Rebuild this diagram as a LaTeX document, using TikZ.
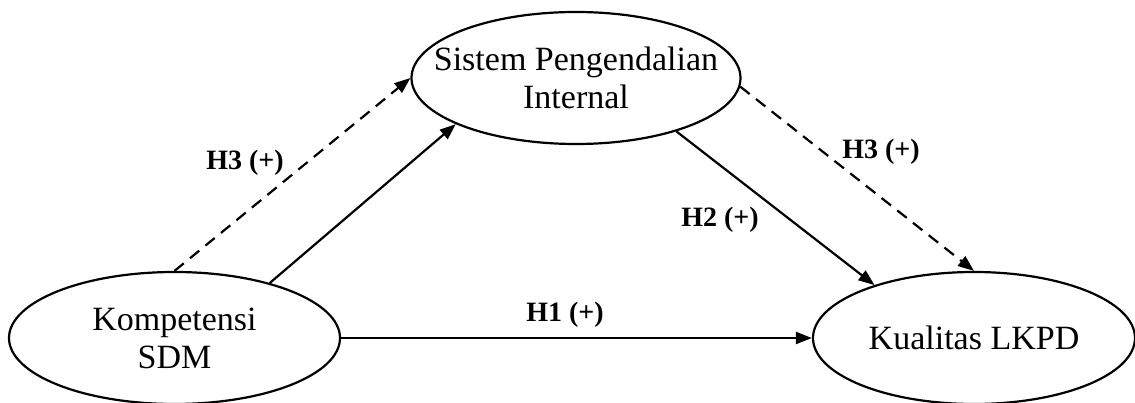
\documentclass[tikz,border=0pt]{standalone}
\usepackage{fontspec}
\setmainfont{Liberation Serif}
\usetikzlibrary{arrows.meta,shapes.geometric}
\begin{document}
\begin{tikzpicture}[x=1pt,y=-1pt,
  construct/.style={ellipse,draw,line width=2.2pt,inner sep=0pt,minimum height=132pt},
  ctext/.style={align=center,inner sep=0pt,font=\fontsize{34}{38}\selectfont},
  link/.style={line width=2.2pt,-{Triangle[length=16pt,width=12pt]}},
  dashlink/.style={link,dash pattern=on 12pt off 8pt},
  hyp/.style={anchor=base,font=\fontsize{28}{32}\selectfont\bfseries}]
\useasboundingbox (0,0) rectangle (1135,403);
\node[construct,minimum width=329pt] (sip) at (576,78) {};
\node[construct,minimum width=331pt] (sdm) at (174.5,338) {};
\node[construct,minimum width=322pt] (lkpd) at (974,338) {};
\node[ctext] (sipt) at (sip.center) {Sistem Pengendalian\\Internal};
\node[ctext] (sdmt) at (sdm.center) {Kompetensi\\SDM};
\node[ctext] (lkpdt) at (lkpd.center) {Kualitas LKPD};
\draw[link] (sdm.30) -- (sip.201);
\draw[dashlink] (sdm.north) -- (sip.west);
\draw[link] (sip.-28) -- (lkpd.152);
\draw[dashlink] (sip.-3) -- (lkpd.north);
\draw[link] (sdm.east) -- (lkpd.west);
\node[hyp] (h3a) at (245,170) {H3 (+)};
\node[hyp] (h3b) at (881,159) {H3 (+)};
\node[hyp] (h2) at (720,227) {H2 (+)};
\node[hyp] (h1) at (565,322) {H1 (+)};
\end{tikzpicture}
\end{document}
